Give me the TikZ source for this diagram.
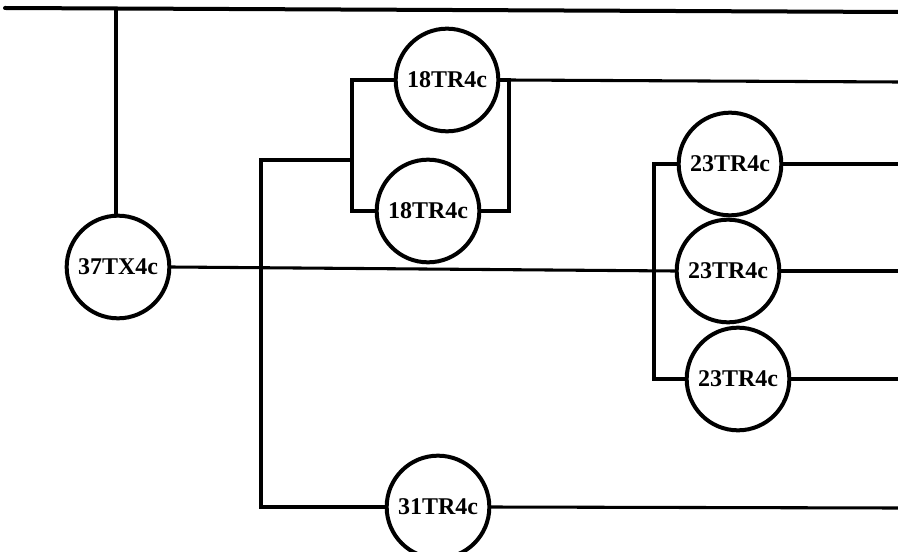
\documentclass[tikz,border=0pt]{standalone}
\usepackage{fontspec}
\setmainfont{Liberation Serif}
\begin{document}
\begin{tikzpicture}[x=0.75pt,y=-0.75pt,
  unit/.style={circle,draw,line width=3pt,minimum size=77pt,inner sep=0pt,
    font=\bfseries\fontsize{18}{18}\selectfont},
  wire/.style={line width=2.3pt,line cap=round,line join=miter}]
\useasboundingbox (0,0) rectangle (898,552);
% nodes
\node[unit] (a)  at (118,267) {37TX4c};
\node[unit] (b1) at (447,80)  {18TR4c};
\node[unit] (b2) at (428,211) {18TR4c};
\node[unit] (c1) at (730,164) {23TR4c};
\node[unit] (c2) at (728,271) {23TR4c};
\node[unit] (c3) at (738,379) {23TR4c};
\node[unit] (d)  at (438,507) {31TR4c};
% free ends and corners
\coordinate (tl) at (5,8);
\coordinate (tr) at (898,12);
\coordinate (ta) at (116,9);
\coordinate (lv1) at (261,160);
\coordinate (lv2) at (261,507);
\coordinate (bl1) at (352,80);
\coordinate (bl2) at (352,160);
\coordinate (bl3) at (352,211);
\coordinate (br1) at (509,80);
\coordinate (br2) at (509,211);
\coordinate (e1) at (898,82);
\coordinate (cv1) at (654,164);
\coordinate (cv2) at (654,379);
\coordinate (f1) at (898,164);
\coordinate (f2) at (898,271);
\coordinate (f3) at (898,379);
\coordinate (f4) at (898,508);
% connectors
\draw[wire,line width=3pt] (tl) -- (tr);
\draw[wire] (ta) -- (a.north -| ta);
\draw[wire] (a.east) -- (c2.west);
\draw[wire] (bl2) -- (lv1) -- (lv2) -- (d.west);
\draw[wire] (b1.west) -- (bl1) -- (bl3) -- (b2.west);
\draw[wire] (b1.east) -- (br1) -- (br2) -- (b2.east);
\draw[wire] (br1) -- (e1);
\draw[wire] (c1.west) -- (cv1) -- (cv2) -- (c3.west);
\draw[wire] (c1.east) -- (f1);
\draw[wire] (c2.east) -- (f2);
\draw[wire] (c3.east) -- (f3);
\draw[wire] (d.east) -- (f4);
\end{tikzpicture}
\end{document}
